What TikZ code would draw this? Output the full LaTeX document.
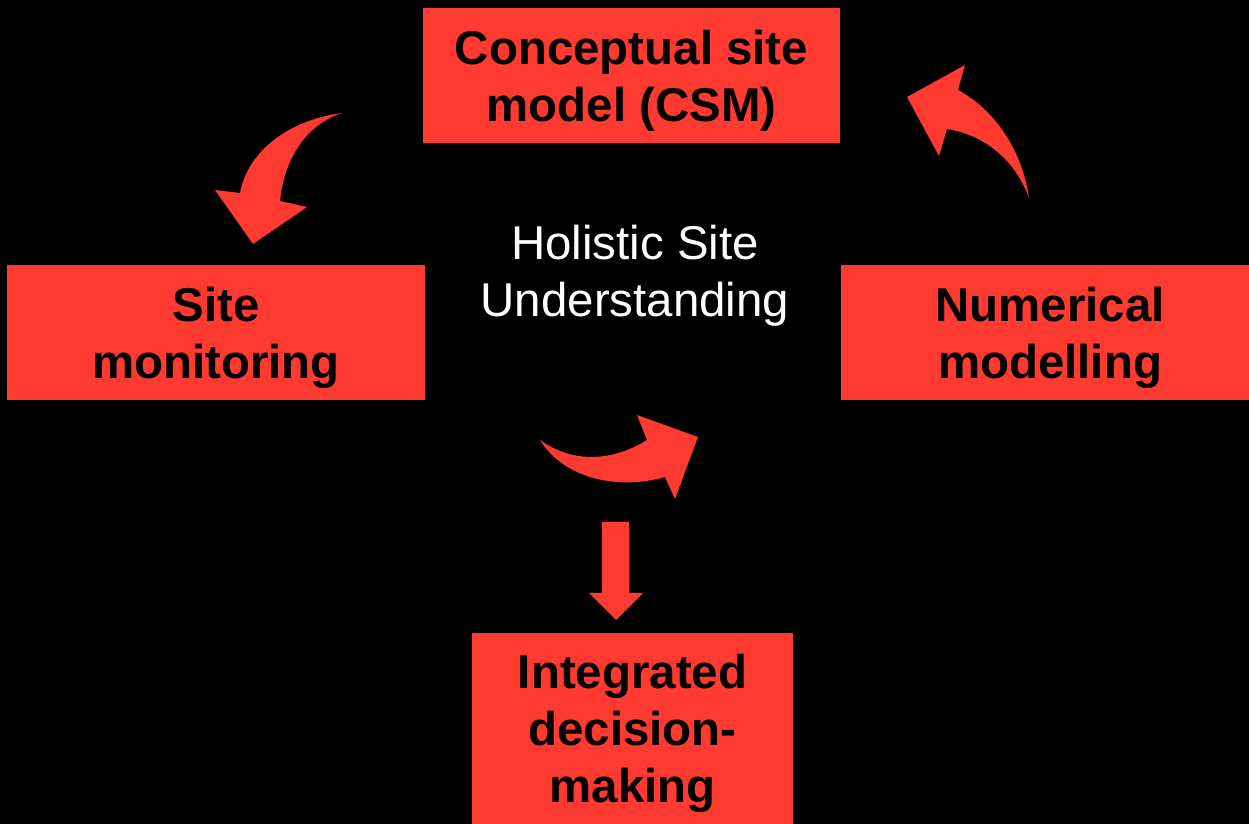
\documentclass[tikz,border=0pt]{standalone}
\usepackage{fontspec}
\setmainfont{Liberation Sans}
\definecolor{boxred}{RGB}{255,58,48}
\begin{document}
\begin{tikzpicture}[x=0.02cm,y=-0.02cm,
  box/.style={fill=boxred,inner sep=0pt},
  boxtext/.style={align=center,inner sep=0pt,yshift=-0.1cm,
    font=\fontsize{27}{32.5}\selectfont\bfseries},
  blockarrow/.style={fill=boxred}]
  \useasboundingbox (0,0) rectangle (1249,824);
  \fill[black] (0,0) rectangle (1249,824);
  % boxes
  \node[box,minimum width=8.34cm,minimum height=2.7cm,
   label={[boxtext]center:{Conceptual site\\model (CSM)}}] (csm) at (631.5,75.5) {};
  \node[box,minimum width=8.36cm,minimum height=2.7cm,
   label={[boxtext]center:{Site\\monitoring}}] (monitor) at (216,332.5) {};
  \node[box,minimum width=8.16cm,minimum height=2.7cm,
   label={[boxtext,xshift=0.1cm]center:{Numerical\\modelling}}] (numeric) at (1045,332.5) {};
  \node[box,minimum width=6.42cm,minimum height=3.82cm,
   label={[boxtext]center:{Integrated\\decision-\\making}}] (decide) at (632.5,728.5) {};
  \node[white,align=center,font=\fontsize{27}{32.5}\selectfont] (holistic) at (635,276)
   {Holistic Site\\Understanding};
  % curved arrows
  \fill[blockarrow] (342,113) .. controls (290,120) and (248,150) .. (240,193)
   -- (215,190) -- (253,244) -- (307,207) -- (280,201)
   .. controls (284,160) and (305,125) .. (342,113) -- cycle;
  \fill[blockarrow] (1029,198) .. controls (1022,150) and (995,110) .. (958,90)
   -- (965,65) -- (907,97) -- (939,156) -- (947,129)
   .. controls (985,135) and (1015,160) .. (1029,198) -- cycle;
  \fill[blockarrow] (540,440) .. controls (575,465) and (615,460) .. (647,440)
   -- (637,415) -- (698,437) -- (675,499) -- (665,477)
   .. controls (620,490) and (565,480) .. (540,440) -- cycle;
  % straight arrow
  \fill[blockarrow] (602,522) -- (629,522) -- (629,593) -- (643,593)
   -- (616,620) -- (589,593) -- (602,593) -- cycle;
\end{tikzpicture}
\end{document}
